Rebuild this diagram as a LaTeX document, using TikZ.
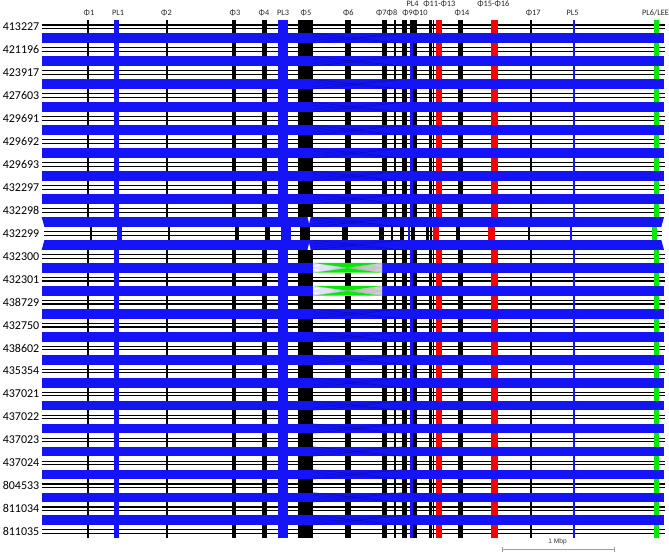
\documentclass[tikz,border=0pt]{standalone}
\usepackage{fontspec}
\setmainfont{Carlito}
\newfontfamily\barfont{Liberation Sans}
\definecolor{synblue}{RGB}{20,20,245}
\definecolor{fgreen}{RGB}{0,235,0}
\definecolor{fred}{RGB}{245,0,0}
\begin{document}
\begin{tikzpicture}[x=1pt,y=-1pt,
  rowline/.style={line width=1.1pt,black},
  rowlab/.style={anchor=east,inner sep=0pt,font=\fontsize{12}{14}\selectfont},
  toplab/.style={inner sep=0pt,font=\fontsize{8.3}{10}\selectfont,text=black!85},
  band/.style={fill=synblue},
  twist/.style={line width=0.4pt,draw=blue!45!black,opacity=0.55}]
\useasboundingbox (0,0) rectangle (669,553);
\fill[white] (0,0) rectangle (669,553);
% ---------- genome rows ----------
\foreach \lab [count=\i from 0] in {413227,421196,423917,427603,429691,429692,429693,432297,432298,432299,432300,432301,438729,432750,438602,435354,437021,437022,437023,437024,804533,811034,811035} {
  \pgfmathsetmacro\yc{26.8+22.95*\i}
  \ifnum\i=9 \def\sL{2.7}\def\sR{-2.7}\else\def\sL{0}\def\sR{0}\fi
  \pgfmathsetmacro\ra{41.7+\sL}
  \pgfmathsetmacro\rb{665+\sR}
  \draw[rowline] (\ra,\yc-1.8) -- (\rb,\yc-1.8) (\ra,\yc+1.8) -- (\rb,\yc+1.8);
  \node[rowlab] (lab\i) at (39.5,\yc) {\lab};
  \foreach \fa/\fb/\fc/\sa/\sb in {
     87.3/89.3/black/0/0, 114.3/119/synblue/0/0, 165.7/167.7/black/0/0,
     232.3/236/black/0/0, 262.3/267.3/black/0/0, 278.3/288/synblue/0/0,
     297.5/312.7/black/0/1, 344.5/351/black/1/1, 381.7/386.5/black/1/1,
     393.5/395.5/black/1/1, 402.3/406.5/black/1/1, 410.3/412.5/synblue/1/1,
     413.3/417.3/black/1/1, 428.5/432/black/1/1, 433/434.2/black/1/1,
     436/442/fred/1/1, 458.3/463/black/1/1, 490.5/497.5/fred/1/1,
     530.3/532.3/black/1/1, 572.7/575/synblue/1/1, 654.3/659.3/fgreen/1/1} {
    \pgfmathsetmacro\pa{\fa+(1-\sa)*\sL+\sa*\sR}
    \pgfmathsetmacro\pb{\fb+(1-\sb)*\sL+\sb*\sR}
    \fill[\fc] (\pa,\yc-6.7) rectangle (\pb,\yc+6.7);
  }
  \ifnum\i=0 \fill[black] (410.3,\yc-6.7) rectangle (417.3,\yc+6.7); \fi
}
% ---------- synteny bands ----------
\foreach \k in {0,...,21} {
  \pgfmathsetmacro\yt{26.8+22.95*\k+6.7}
  \pgfmathsetmacro\yb{26.8+22.95*(\k+1)-6.5}
  \pgfmathsetmacro\ym{(\yt+\yb)/2}
  \ifnum\k=8
    \fill[band] (41.7,\yt) -- (664,\yt) -- (661.3,\yb) -- (44.4,\yb) -- cycle;
    \fill[white] (307.6,\yt) -- (310.6,\yt) -- (309.1,\yt+6.5) -- cycle;
  \else\ifnum\k=9
    \fill[band] (44.4,\yt) -- (661.3,\yt) -- (664,\yb) -- (41.7,\yb) -- cycle;
    \fill[white] (307.6,\yb) -- (310.6,\yb) -- (309.1,\yb-6.5) -- cycle;
  \else\ifnum\k=10 \def\inv{1}\else\ifnum\k=11 \def\inv{1}\else\def\inv{0}\fi\fi
    \ifnum\inv=1
      \fill[band] (41.7,\yt) rectangle (313,\yb);
      \fill[band] (382,\yt) rectangle (664,\yb);
      \fill[white] (313,\yt) -- (347.5,\ym) -- (313,\yb) -- cycle;
      \fill[gray!30] (382,\yt) -- (347.5,\ym) -- (382,\yb) -- cycle;
      \foreach \t in {0.15,0.3,0.45,0.6,0.75,0.9} {
        \draw[gray!70,line width=0.25pt] (382,\yt+\t*9.7) -- (347.5,\ym);
        \draw[blue!30,line width=0.25pt] (313,\yt+\t*9.7) -- (347.5,\ym);
      }
      \fill[fgreen] (313,\yt) -- (382,\yt) -- (347.5,\ym) -- cycle;
      \fill[fgreen] (313,\yb) -- (382,\yb) -- (347.5,\ym) -- cycle;
      \draw[gray!60,line width=0.3pt] (313,\yt) -- (382,\yb) (313,\yb) -- (382,\yt);
    \else
      \fill[band] (41.7,\yt) rectangle (664,\yb);
    \fi
  \fi\fi
  \ifnum\k=10 \else\ifnum\k=11 \else
    \draw[twist] (313,\yt) -- (402,\yb) (313,\yb) -- (402,\yt);
    \draw[twist,opacity=0.3] (313,\ym-2) -- (395,\yb) (313,\ym+2) -- (395,\yt);
  \fi\fi
}
% ---------- feature labels ----------
\node[toplab] (t1)  at (89,13)    {Φ1};
\node[toplab] (t2)  at (118,13)   {PL1};
\node[toplab] (t3)  at (166.5,13) {Φ2};
\node[toplab] (t4)  at (235,13)   {Φ3};
\node[toplab] (t5)  at (264,13)   {Φ4};
\node[toplab] (t6)  at (283,13)   {PL3};
\node[toplab] (t7)  at (306,13)   {Φ5};
\node[toplab] (t8)  at (348.3,13) {Φ6};
\node[toplab] (t9)  at (386.7,13) {Φ7Φ8};
\node[toplab] (t10) at (415,13)   {Φ9Φ10};
\node[toplab] (t11) at (412.5,4)  {PL4};
\node[toplab] (t12) at (439.3,4)  {Φ11-Φ13};
\node[toplab] (t13) at (462,13)   {Φ14};
\node[toplab] (t14) at (493.3,4)  {Φ15-Φ16};
\node[toplab] (t15) at (533.3,13) {Φ17};
\node[toplab] (t16) at (572.5,13) {PL5};
\node[toplab] (t17) at (655.5,13) {PL6/LEE};
% ---------- scale bar ----------
\coordinate (sb1) at (502.3,549.5);
\coordinate (sb2) at (614,549.5);
\draw[gray!75,line width=0.6pt] (sb1) -- (sb2);
\draw[gray!75,line width=0.6pt] ([yshift=-2.3pt]sb1) -- ([yshift=2.3pt]sb1) ([yshift=-2.3pt]sb2) -- ([yshift=2.3pt]sb2);
\node[inner sep=0pt,font=\barfont\fontsize{6.6}{8}\selectfont,text=black!80] (sbl) at (557.5,542) {1 Mbp};
\end{tikzpicture}
\end{document}
